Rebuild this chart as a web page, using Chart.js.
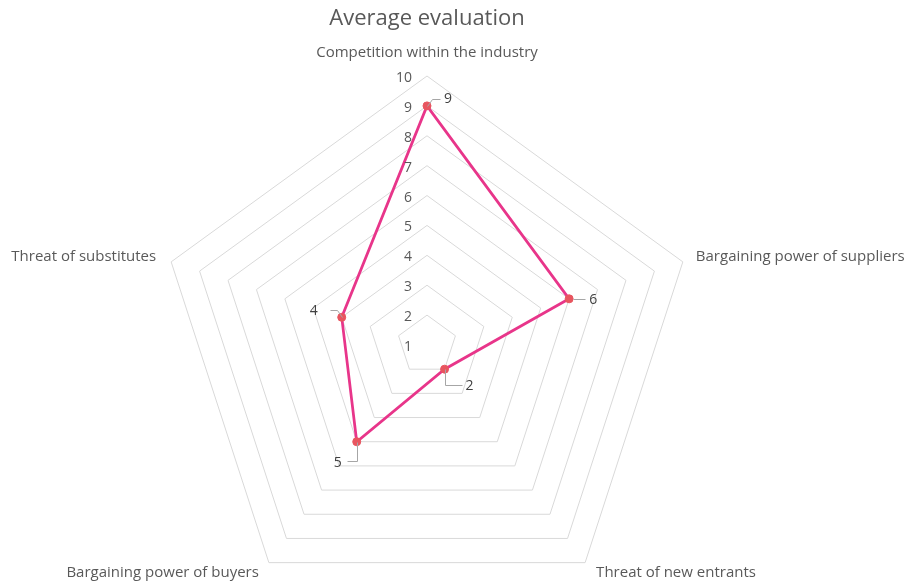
<!DOCTYPE html>
<html>
<head>
<meta charset="utf-8">
<script src="https://cdn.jsdelivr.net/npm/chart.js@4.4.0/dist/chart.umd.min.js"></script>
<style>
  html, body { margin: 0; padding: 0; background: #ffffff; overflow: hidden; }
  #wrap { width: 913px; height: 620px; }
</style>
</head>
<body>
<div id="wrap"><canvas id="c" width="913" height="620"></canvas></div>
<script>
const categories = [
  'Competition within the industry',
  'Bargaining power of suppliers',
  'Threat of new entrants',
  'Bargaining power of buyers',
  'Threat of substitutes'
];
const averageEvaluation = [9, 6, 2, 5, 4];
const tickValues = [1, 2, 3, 4, 5, 6, 7, 8, 9, 10];

const TEXT = '#595959';
const FONT = '"Open Sans", sans-serif';

// point label placement (offset from outer vertex, alignment)
const labelPlacement = [
  { dx: 0,   dy: -23, align: 'center' },
  { dx: 13,  dy: -5,  align: 'left' },
  { dx: 11,  dy: 10,  align: 'left' },
  { dx: -10, dy: 10,  align: 'right' },
  { dx: -15, dy: -5,  align: 'right' }
];
// data label placement relative to point: label offset and leader path
const dataLabelPlacement = [
  { lx: 21,  ly: -7,  path: [[0, 0], [5, -7], [13, -7]] },
  { lx: 24,  ly: 1,   path: [[4, 0], [16, 0]] },
  { lx: 25,  ly: 17,  path: [[0, 0], [0, 16], [17, 16]] },
  { lx: -19, ly: 21,  path: [[0, 0], [0, 19], [-10, 19]] },
  { lx: -28, ly: -6,  path: [[0, 0], [-5, -7], [-12, -7]] }
];

const overlay = {
  id: 'overlay',
  afterDraw(chart) {
    const ctx = chart.ctx;
    const r = chart.scales.r;
    ctx.save();
    // tick labels
    ctx.font = '14px ' + FONT;
    ctx.fillStyle = TEXT;
    ctx.textAlign = 'right';
    ctx.textBaseline = 'middle';
    tickValues.forEach(v => {
      const d = r.getDistanceFromCenterForValue(v);
      ctx.fillText(String(v), r.xCenter - 15, r.yCenter - d + 2);
    });
    // point labels
    ctx.font = '15px ' + FONT;
    categories.forEach((name, i) => {
      const p = r.getPointPosition(i, r.drawingArea);
      const pl = labelPlacement[i];
      ctx.textAlign = pl.align;
      ctx.fillText(name, p.x + pl.dx, p.y + pl.dy);
    });
    // data labels with leader lines
    const meta = chart.getDatasetMeta(0);
    ctx.strokeStyle = '#A6A6A6';
    ctx.lineWidth = 1;
    ctx.font = '14px ' + FONT;
    ctx.fillStyle = '#404040';
    meta.data.forEach((pt, i) => {
      const pl = dataLabelPlacement[i];
      ctx.beginPath();
      pl.path.forEach((q, k) => {
        const x = Math.round(pt.x + q[0]) + 0.5, y = Math.round(pt.y + q[1]) + 0.5;
        if (k === 0) ctx.moveTo(x, y); else ctx.lineTo(x, y);
      });
      ctx.stroke();
      ctx.textAlign = 'center';
      ctx.fillText(String(averageEvaluation[i]), pt.x + pl.lx, pt.y + pl.ly);
    });
    ctx.restore();
  }
};

new Chart(document.getElementById('c'), {
  type: 'radar',
  data: {
    labels: categories,
    datasets: [{
      label: 'Average evaluation',
      data: averageEvaluation,
      borderColor: '#E8358A',
      borderWidth: 2.75,
      backgroundColor: 'rgba(0,0,0,0)',
      fill: false,
      pointRadius: 4,
      pointBackgroundColor: '#E8555F',
      pointBorderColor: '#E8555F',
      pointBorderWidth: 1,
      tension: 0
    }]
  },
  options: {
    responsive: false,
    animation: false,
    layout: { padding: { left: 157, right: 216, top: 0, bottom: 5 } },
    plugins: {
      legend: { display: false },
      tooltip: { enabled: false },
      title: {
        display: true,
        text: 'Average evaluation',
        color: TEXT,
        font: { family: FONT, size: 22, weight: 'normal' },
        padding: { top: 6, bottom: 43 }
      }
    },
    scales: {
      r: {
        min: 1,
        max: 10,
        ticks: { display: false, stepSize: 1 },
        pointLabels: { display: false },
        angleLines: { display: false },
        grid: { color: '#D9D9D9', lineWidth: 1 }
      }
    }
  },
  plugins: [overlay]
});
</script>
</body>
</html>
